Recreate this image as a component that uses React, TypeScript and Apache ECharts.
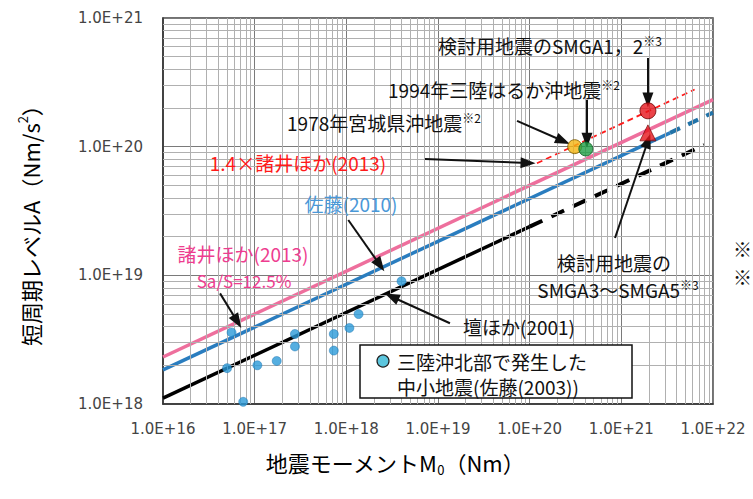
import React, { useEffect, useRef } from 'react';
import * as echarts from 'echarts';

// ---- axis ticks (exponents of 10) ----
const xTickExponents = [16, 17, 18, 19, 20, 21, 22];
const yTickExponents = [18, 19, 20, 21];
const minorMantissas = [2, 3, 4, 5, 6, 7, 8, 9];

// ---- 三陸沖北部で発生した中小地震 (佐藤(2003)) ----
const satoM0 = [5.6e16, 5.0e16, 7.5e16, 1.07e17, 1.74e17, 2.75e17, 2.75e17, 7.3e17, 7.3e17, 1.08e18, 1.36e18, 4.0e18];
const satoA = [3.6e18, 1.9e18, 1.04e18, 2.0e18, 2.16e18, 3.5e18, 2.8e18, 3.5e18, 2.6e18, 3.9e18, 5.0e18, 9.0e18];

// ---- scaling relations ----
const moroiM0 = [1e16, 1e22];
const moroiA = [2.32e18, 2.32e20];
const moroi14M0 = [1.2e20, 6.3e21];
const moroi14A = [7.43e19, 2.78e20];
const sato2010M0 = [1e16, 3.4e21];
const sato2010A = [1.84e18, 1.28e20];
const sato2010ExtM0 = [3.4e21, 1e22];
const sato2010ExtA = [1.28e20, 1.84e20];
const danM0 = [1e16, 1e20];
const danA = [1.11e18, 2.39e19];
const danExtM0 = [1e20, 8e21];
const danExtA = [2.39e19, 1.03e20];

// ---- events ----
const eq1978 = [3.1e20, 1.0e20];
const eq1994 = [4.1e20, 9.6e19];
const smga12 = [1.95e21, 1.9e20];
const smga35 = [1.95e21, 1.28e20];

// ---- annotation arrows [from, to] in data coordinates ----
const arrows = [
  [[1.95e21, 4.89e20], [1.95e21, 2.31e20]],
  [[4.22e20, 2.31e20], [4.22e20, 1.12e20]],
  [[7.28e19, 1.585e20], [2.31e20, 1.107e20]],
  [[7.21e18, 8.02e19], [9.6e19, 7.46e19]],
  [[8.53e20, 1.95e19], [1.95e21, 1.107e20]],
  [[1.05e18, 2.69e19], [2.33e18, 1.2e19]],
  [[4.19e16, 7.24e18], [6.47e16, 4.37e18]],
  [[1.35e19, 4.24e18], [3.13e18, 6.82e18]],
];

const FONT = '"Noto Sans CJK JP", "Noto Sans", sans-serif';

const zip = (xs: number[], ys: number[]) => xs.map((x, i) => [x, ys[i]]);

export default function App() {
  const ref = useRef<HTMLDivElement>(null);
  useEffect(() => {
    document.body.style.margin = '0';
    const chart = echarts.init(ref.current!, undefined, { renderer: 'svg' });

    const minorX: number[] = [];
    xTickExponents.slice(0, -1).forEach((e) => minorMantissas.forEach((m) => minorX.push(m * Math.pow(10, e))));
    const minorY: number[] = [];
    yTickExponents.slice(0, -1).forEach((e) => minorMantissas.forEach((m) => minorY.push(m * Math.pow(10, e))));

    const fmt = (v: number) => '1.0E+' + Math.round(Math.log10(v));

    const txt = (x: number, y: number, text: string, color = '#111', size = 20, align = 'center', rich?: any) => ({
      type: 'text',
      x,
      y,
      silent: true,
      z: 100,
      style: {
        text,
        fill: color,
        font: `${size}px ${FONT}`,
        fontFamily: FONT,
        fontSize: size,
        align,
        verticalAlign: 'middle',
        rich,
      },
    });

    const supRich = {
      t: { fontSize: 19, fontFamily: FONT, color: '#111', lineHeight: 22 },
      s: { fontSize: 12, fontFamily: FONT, color: '#111', verticalAlign: 'top', lineHeight: 22 },
    };

    chart.setOption({
      animation: false,
      backgroundColor: '#fff',
      grid: {
        left: 163,
        right: 40,
        top: 18,
        bottom: 95,
        show: true,
        borderColor: '#444',
        borderWidth: 1.5,
        backgroundColor: 'transparent',
      },
      xAxis: {
        type: 'log',
        logBase: 10,
        min: 1e16,
        max: 1e22,
        splitNumber: 6,
        axisLine: { show: true, lineStyle: { color: '#333', width: 1.5 } },
        axisTick: { show: false },
        axisLabel: {
          formatter: fmt,
          color: '#444',
          fontFamily: 'DejaVu Sans',
          fontSize: 15,
          margin: 17,
          showMinLabel: true,
          showMaxLabel: true,
        },
        splitLine: { show: true, lineStyle: { color: '#7a7a7a', width: 1 } },
      },
      yAxis: {
        type: 'log',
        logBase: 10,
        min: 1e18,
        max: 1e21,
        splitNumber: 3,
        axisLine: { show: true, lineStyle: { color: '#333', width: 1.5 } },
        axisTick: { show: false },
        axisLabel: {
          formatter: fmt,
          color: '#444',
          fontFamily: 'DejaVu Sans',
          fontSize: 15,
          margin: 20,
        },
        splitLine: { show: true, lineStyle: { color: '#7a7a7a', width: 1 } },
      },
      series: [
        {
          name: 'minor-grid',
          type: 'line',
          data: [[1e16, 1e18]],
          symbol: 'none',
          lineStyle: { opacity: 0 },
          silent: true,
          z: 1,
          markLine: {
            silent: true,
            symbol: ['none', 'none'],
            label: { show: false },
            lineStyle: { color: '#b0b0b0', width: 1, type: 'solid' },
            data: [...minorX.map((v) => ({ xAxis: v })), ...minorY.map((v) => ({ yAxis: v }))],
          },
        },
        {
          name: '諸井ほか(2013)',
          type: 'line',
          data: zip(moroiM0, moroiA),
          symbol: 'none',
          lineStyle: { color: '#ee6f9d', width: 3.5 },
          z: 3,
        },
        {
          name: '佐藤(2010)',
          type: 'line',
          data: zip(sato2010M0, sato2010A),
          symbol: 'none',
          lineStyle: { color: '#2a7dbf', width: 3.5 },
          z: 3,
        },
        {
          name: '佐藤(2010)外挿',
          type: 'line',
          data: zip(sato2010ExtM0, sato2010ExtA),
          symbol: 'none',
          lineStyle: { color: '#2273a8', width: 4, type: [11, 9], cap: 'butt' },
          z: 3,
        },
        {
          name: '壇ほか(2001)',
          type: 'line',
          data: zip(danM0, danA),
          symbol: 'none',
          lineStyle: { color: '#000', width: 3.5 },
          z: 3,
        },
        {
          name: '壇ほか(2001)外挿',
          type: 'line',
          data: zip(danExtM0, danExtA),
          symbol: 'none',
          lineStyle: { color: '#000', width: 4, type: [14, 10], cap: 'butt' },
          z: 3,
        },
        {
          name: '1.4×諸井ほか(2013)',
          type: 'line',
          data: zip(moroi14M0, moroi14A),
          symbol: 'none',
          lineStyle: { color: '#ff1a1a', width: 1.8, type: [6, 4] },
          z: 4,
        },
        {
          name: '三陸沖北部で発生した中小地震(佐藤(2003))',
          type: 'scatter',
          data: zip(satoM0, satoA),
          symbol: 'circle',
          symbolSize: 9,
          itemStyle: { color: '#2b9ad8', borderColor: '#1b74b0', borderWidth: 0.6 },
          z: 5,
        },
        {
          name: '1978年宮城県沖地震',
          type: 'scatter',
          data: [eq1978],
          symbolSize: 14,
          itemStyle: { color: '#f4b512', borderColor: '#7a5a00', borderWidth: 1 },
          z: 6,
        },
        {
          name: '1994年三陸はるか沖地震',
          type: 'scatter',
          data: [eq1994],
          symbolSize: 14,
          itemStyle: { color: '#1f9f45', borderColor: '#0c5a22', borderWidth: 1 },
          z: 7,
        },
        {
          name: '検討用地震のSMGA1,2',
          type: 'scatter',
          data: [smga12],
          symbolSize: 16,
          itemStyle: { color: '#e6141b', borderColor: '#6a0000', borderWidth: 1 },
          z: 7,
        },
        {
          name: '検討用地震のSMGA3～SMGA5',
          type: 'scatter',
          data: [smga35],
          symbol: 'triangle',
          symbolSize: 16,
          itemStyle: { color: '#e6141b', borderColor: '#6a0000', borderWidth: 0.8 },
          z: 7,
        },
        {
          name: 'arrows',
          type: 'line',
          data: [[1e16, 1e18]],
          symbol: 'none',
          lineStyle: { opacity: 0 },
          silent: true,
          z: 8,
          markLine: {
            silent: true,
            symbol: ['none', 'triangle'],
            symbolSize: [11, 15],
            label: { show: false },
            lineStyle: { color: '#111', width: 2, type: 'solid' },
            itemStyle: { color: '#111' },
            data: arrows.map(([a, b]) => [{ coord: a }, { coord: b }]),
          },
        },
      ],
      graphic: [
        // axis names
        {
          type: 'text',
          x: 30,
          y: 220,
          rotation: Math.PI / 2,
          silent: true,
          style: {
            text: '{a|短周期レベルA（Nm/s}{s|2}{a|）}',
            align: 'center',
            verticalAlign: 'middle',
            rich: {
              a: { fontFamily: FONT, fontSize: 22, color: '#111', lineHeight: 28 },
              s: { fontFamily: FONT, fontSize: 13, color: '#111', verticalAlign: 'top', lineHeight: 28 },
            },
          },
        },
        {
          type: 'text',
          x: 395,
          y: 462,
          silent: true,
          style: {
            text: '{a|地震モーメントM}{s|0}{a|（Nm）}',
            align: 'center',
            verticalAlign: 'middle',
            rich: {
              a: { fontFamily: FONT, fontSize: 22, color: '#111', lineHeight: 28 },
              s: { fontFamily: FONT, fontSize: 13, color: '#111', verticalAlign: 'bottom', lineHeight: 28 },
            },
          },
        },
        // annotations
        txt(550, 45, '{t|検討用地震のSMGA1，2}{s|※3}', '#111', 19, 'center', supRich),
        txt(504, 89, '{t|1994年三陸はるか沖地震}{s|※2}', '#111', 19, 'center', supRich),
        txt(384, 122, '{t|1978年宮城県沖地震}{s|※2}', '#111', 19, 'center', supRich),
        txt(298, 162, '1.4×諸井ほか(2013)', '#ff1a1a', 19),
        txt(351, 203, '佐藤(2010)', '#4a98d8', 19),
        txt(243, 253, '諸井ほか(2013)', '#ee3d8f', 19),
        txt(244, 280, 'Sa/S=12.5%', '#ee3d8f', 17),
        txt(519, 326, '壇ほか(2001)', '#111', 19),
        txt(614, 262, '検討用地震の', '#111', 19),
        txt(618, 289, '{t|SMGA3～SMGA5}{s|※3}', '#111', 19, 'center', supRich),
        txt(733, 248, '※', '#111', 19, 'left'),
        txt(733, 276, '※', '#111', 19, 'left'),
        // legend box
        {
          type: 'rect',
          shape: { x: 360, y: 345, width: 272, height: 53 },
          style: { fill: '#fff', stroke: '#111', lineWidth: 1.5 },
          z: 90,
          silent: true,
        },
        {
          type: 'circle',
          shape: { cx: 383, cy: 361, r: 6 },
          style: { fill: '#5cc6de', stroke: '#222', lineWidth: 1.2 },
          z: 95,
          silent: true,
        },
        txt(397, 361, '三陸沖北部で発生した', '#111', 19, 'left'),
        txt(397, 386, '中小地震(佐藤(2003))', '#111', 19, 'left'),
      ],
    });
    return () => chart.dispose();
  }, []);
  return <div ref={ref} style={{ width: 753, height: 499 }} />;
}
